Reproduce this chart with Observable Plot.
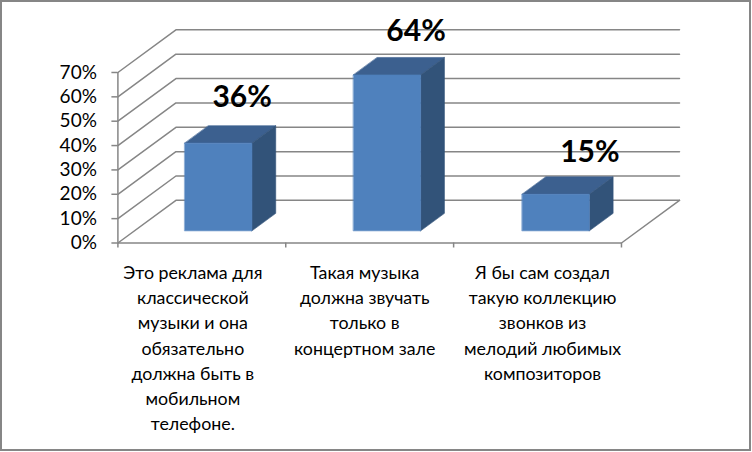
<!DOCTYPE html>
<html><head><meta charset="utf-8">
<style>
html,body{margin:0;padding:0;background:#fff}
#wrap{position:relative;width:752px;height:452px;overflow:hidden}
#border{position:absolute;left:0;top:0;width:747px;height:447px;border:2px solid #868686;pointer-events:none}
</style>
<script src="https://cdn.jsdelivr.net/npm/d3@7"></script>
<script src="https://cdn.jsdelivr.net/npm/@observablehq/plot@0.6"></script>
</head><body><div id="wrap"><div id="border"></div></div>
<script>
const categories = [
  "Это реклама для\nклассической\nмузыки и она\nобязательно\nдолжна быть в\nмобильном\nтелефоне.",
  "Такая музыка\nдолжна звучать\nтолько в\nконцертном зале",
  "Я бы сам создал\nтакую коллекцию\nзвонков из\nмелодий любимых\nкомпозиторов"
];
const values = [36, 64, 15];
const yTicks = [0, 10, 20, 30, 40, 50, 60, 70];
const xTicks = [0, 1, 2, 3];

// oblique projection: depth 0 = front plane, depth 1 = back wall
const DX = 0.3457, DY = 17.5;
const px = (x, d) => x + d * DX;
const py = (v, d) => v + d * DY;
const barOff = 0.3, barW = 0.4, d0 = 0.285, d1 = 0.695;

const faces = (fn) => values.flatMap((v, i) => fn(v, i + barOff + i * 0.005).map(([x, y, d]) => ({ id: i, x: px(x, d), y: py(y, d) })));
const topFaces = faces((v, l) => [[l, v, d0], [l + barW, v, d0], [l + barW, v, d1], [l, v, d1]]);
const sideFaces = faces((v, l) => [[l + barW, 0, d0], [l + barW, 0, d1], [l + barW, v, d1], [l + barW, v, d0]]);
const frontFaces = faces((v, l) => [[l, 0, d0], [l + barW, 0, d0], [l + barW, v, d0], [l, v, d0]]);

const gridRows = yTicks.flatMap(t => [
  { id: t, x: px(0, 0), y: py(t, 0) },
  { id: t, x: px(0, 1), y: py(t, 1) },
  { id: t, x: px(3, 1), y: py(t, 1) }
]);
const floorEdge = [{ x: px(3, 0), y: py(0, 0) }, { x: px(3, 1), y: py(0, 1) }];

const GREY = "#868686";
const face = (rows, color) => Plot.line(rows, { x: "x", y: "y", z: "id", fill: color, stroke: color, strokeWidth: 0.6, curve: "linear-closed" });
const labelShift = [-9, -5, 5];
const valueShift = [0, 6, 12];
const valueLift = [-28, -26, -24];

const chart = Plot.plot({
  width: 752, height: 452,
  marginLeft: 117.4, marginRight: 73, marginTop: 29.35, marginBottom: 209.5,
  style: { fontFamily: "Lato, 'Open Sans', sans-serif", background: "transparent", overflow: "visible" },
  x: { domain: [0, 3 + DX], range: [117.4, 679], axis: null },
  y: { domain: [0, 70 + DY], axis: null },
  marks: [
    Plot.line(gridRows, { x: "x", y: "y", z: "id", stroke: GREY, strokeWidth: 1.5 }),
    Plot.line(floorEdge, { x: "x", y: "y", stroke: GREY, strokeWidth: 1.5 }),
    Plot.ruleX([0], { y1: 0, y2: 70, stroke: GREY, strokeWidth: 1.5 }),
    Plot.ruleY([0], { x1: 0, x2: 3, stroke: GREY, strokeWidth: 1.5 }),
    Plot.axisY({ ticks: yTicks, tickFormat: d => d + "%", tickSize: 6, tickPadding: 15, stroke: GREY, strokeWidth: 1.5, fill: "#000", fontSize: 19, label: null, anchor: "left" }),
    Plot.axisX({ ticks: xTicks, tickFormat: () => "", tickSize: 5, stroke: GREY, strokeWidth: 1.5, label: null, anchor: "bottom" }),
    face(topFaces, "#3C608F"),
    face(sideFaces, "#325379"),
    face(frontFaces, "#4F81BD"),
    ...categories.map((c, i) => Plot.text([c], {
      x: () => i + 0.5, y: () => 0, dx: labelShift[i], dy: 18,
      text: d => d, lineAnchor: "top", textAnchor: "middle",
      fontSize: 17.8, lineHeight: 1.416, fill: "#000"
    })),
    ...values.map((v, i) => Plot.text([v], {
      x: () => px(i + barOff + barW / 2, d1), y: () => py(v, d1), dx: valueShift[i], dy: valueLift[i],
      text: d => d + "%", fontSize: 30, fontWeight: 700, fill: "#000", textAnchor: "middle", lineAnchor: "middle"
    }))
  ]
});
document.getElementById("wrap").prepend(chart);
</script>
</body></html>
